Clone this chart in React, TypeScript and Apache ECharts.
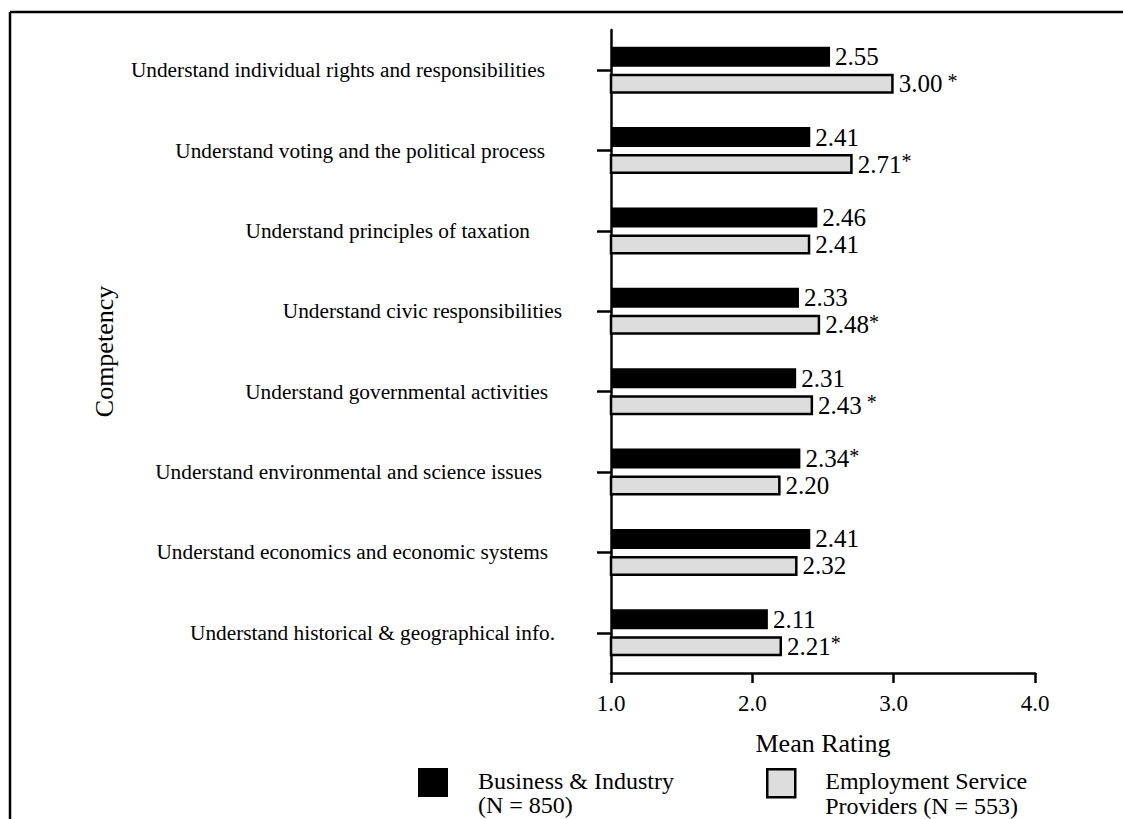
import React, { useEffect, useRef } from "react";
import * as echarts from "echarts";

const categories = [
  "Understand individual rights and responsibilities",
  "Understand voting and the political process",
  "Understand principles of taxation",
  "Understand civic responsibilities",
  "Understand governmental activities",
  "Understand environmental and science issues",
  "Understand economics and economic systems",
  "Understand historical & geographical info.",
];
const businessValues = [2.55, 2.41, 2.46, 2.33, 2.31, 2.34, 2.41, 2.11];
const providerValues = [3.0, 2.71, 2.41, 2.48, 2.43, 2.2, 2.32, 2.21];
const businessStars = ["", "", "", "", "", "*", "", ""];
const providerStars = [" *", "*", "", "*", " *", "", "", "*"];
const seriesNames = ["Business & Industry\n(N = 850)", "Employment Service\nProviders (N = 553)"];
const xMin = 1;
const xMax = 4;
const xInterval = 1;
const labelRightPad = [17, 17, 32, 0, 14, 20, 14, 7];

const FONT = "'Liberation Serif', 'Times New Roman', serif";
const GRAY = "#dddddd";

export default function App() {
  const ref = useRef<HTMLDivElement>(null);
  useEffect(() => {
    if (!ref.current) return;
    const chart = echarts.init(ref.current, undefined, { renderer: "svg" });
    const rich: Record<string, any> = {};
    categories.forEach((_, i) => {
      rich["c" + i] = {
        fontSize: 21.3,
        fontFamily: FONT,
        color: "#000",
        padding: [0, labelRightPad[i], 0, 0],
      };
    });
    const valueRich = {
      v: { fontSize: 25, fontFamily: FONT, color: "#000", lineHeight: 26 },
      s: { fontSize: 20, fontFamily: FONT, color: "#000", verticalAlign: "top", lineHeight: 13 },
    };
    const mkLabel = (stars: string[]) => ({
      show: true,
      position: "right",
      distance: 5,
      formatter: (p: any) => {
        const st = stars[p.dataIndex];
        return `{v|${Number(p.value).toFixed(2)}}` + (st ? `{s|${st}}` : "");
      },
      rich: valueRich,
    });
    const legendRich = {
      p: { fontSize: 24, fontFamily: FONT, color: "#000", lineHeight: 25, verticalAlign: "bottom" },
      sp: { fontSize: 4, fontFamily: FONT, color: "#000", lineHeight: 45 },
      q: { fontSize: 24, fontFamily: FONT, color: "#000", lineHeight: 25 },
    };
    const legendFormatter = (name: string) => {
      const parts = name.split("\n");
      return `{p|${parts[0]}}{sp| }\n{q|${parts[1]}}`;
    };
    const legendBase = {
      orient: "horizontal",
      selectedMode: false,
      padding: 0,
      icon: "rect",
      formatter: legendFormatter,
      textStyle: { fontSize: 24, fontFamily: FONT, color: "#000", padding: [0, 0, 0, 25], rich: legendRich },
    };
    chart.setOption({
      animation: false,
      backgroundColor: "#fff",
      textStyle: { fontFamily: FONT, color: "#000" },
      grid: { left: 611, right: 88, top: 30, bottom: 146, containLabel: false },
      xAxis: {
        type: "value",
        min: xMin,
        max: xMax,
        interval: xInterval,
        name: "Mean Rating",
        nameLocation: "middle",
        nameGap: 57,
        nameTextStyle: { fontSize: 26, fontFamily: FONT, color: "#000" },
        axisLine: { show: true, lineStyle: { color: "#000", width: 2.5 } },
        axisTick: { show: true, length: 10, lineStyle: { color: "#000", width: 2.5 } },
        axisLabel: {
          margin: 19,
          fontSize: 23,
          fontFamily: FONT,
          color: "#000",
          formatter: (v: number) => v.toFixed(1),
        },
        splitLine: { show: false },
      },
      yAxis: {
        type: "category",
        inverse: true,
        data: categories,
        name: "Competency",
        nameLocation: "middle",
        nameGap: 494,
        nameTextStyle: { fontSize: 26, fontFamily: FONT, color: "#000" },
        axisLine: { show: true, lineStyle: { color: "#000", width: 2.5 } },
        axisTick: { show: true, alignWithLabel: true, length: 14, lineStyle: { color: "#000", width: 2.5 } },
        axisLabel: {
          margin: 49,
          formatter: (v: string, i: number) => `{c${i}|${v}}`,
          rich,
        },
        splitLine: { show: false },
      },
      legend: [
        {
          ...legendBase,
          left: 418,
          top: 768,
          itemWidth: 30,
          itemHeight: 29,
          data: [{ name: seriesNames[0], itemStyle: { color: "#000", borderWidth: 0 } }],
        },
        {
          ...legendBase,
          left: 766,
          top: 768,
          itemWidth: 28,
          itemHeight: 28,
          data: [{ name: seriesNames[1], itemStyle: { color: GRAY, borderColor: "#000", borderWidth: 2.5 } }],
        },
      ],
      series: [
        {
          name: seriesNames[0],
          type: "bar",
          data: businessValues,
          barWidth: 20,
          barGap: "35%",
          clip: true,
          itemStyle: { color: "#000" },
          label: mkLabel(businessStars),
        },
        {
          name: seriesNames[1],
          type: "bar",
          data: providerValues,
          barWidth: 20,
          barGap: "35%",
          clip: true,
          itemStyle: { color: GRAY, borderColor: "#000", borderWidth: 2.5 },
          label: mkLabel(providerStars),
        },
      ],
      graphic: [
        { type: "line", shape: { x1: 10, y1: 12, x2: 1123, y2: 12 }, style: { stroke: "#000", lineWidth: 2.5 } },
        { type: "line", shape: { x1: 10, y1: 12, x2: 10, y2: 819 }, style: { stroke: "#000", lineWidth: 2.5 } },
      ],
    });
    return () => chart.dispose();
  }, []);
  return (
    <div
      ref={ref}
      style={{ position: "fixed", left: 0, top: 0, width: 1123, height: 819, background: "#fff" }}
    />
  );
}
